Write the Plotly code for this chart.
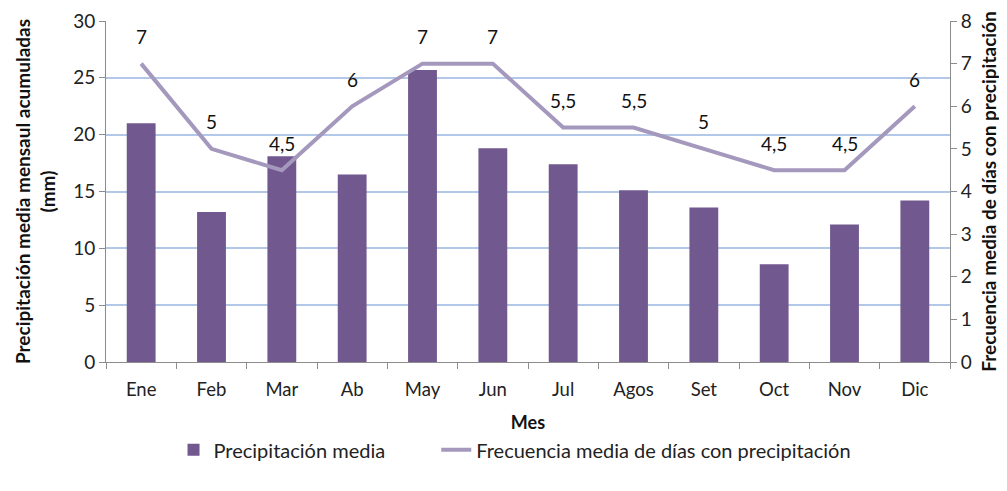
import plotly.graph_objects as go

# datos
meses = ["Ene", "Feb", "Mar", "Ab", "May", "Jun", "Jul", "Agos", "Set", "Oct", "Nov", "Dic"]
precipitacion = [21.0, 13.2, 18.1, 16.5, 25.7, 18.8, 17.4, 15.1, 13.6, 8.6, 12.1, 14.2]
frecuencia = [7, 5, 4.5, 6, 7, 7, 5.5, 5.5, 5, 4.5, 4.5, 6]

FONT = "Lato"
bar_color = "#71588F"
line_color = "#A498BD"
txt_color = "#222222"

fig = go.Figure()

fig.add_trace(go.Bar(
    x=meses, y=precipitacion,
    name="Precipitación media" + "\u00a0" * 9,
    marker=dict(color=bar_color, line=dict(width=0)),
    yaxis="y",
))

fig.add_trace(go.Scatter(
    x=meses, y=frecuencia,
    name="Frecuencia media de días con precipitación",
    mode="lines",
    line=dict(color=line_color, width=4),
    yaxis="y2",
))

# etiquetas de datos con coma decimal
annotations = []
for m, v in zip(meses, frecuencia):
    txt = f"{v:g}".replace(".", ",")
    annotations.append(dict(
        x=m, y=v, xref="x", yref="y2", text=txt, showarrow=False,
        yshift=27, font=dict(family=FONT, size=19, color="#111111"),
    ))

fig.update_layout(
    width=1007, height=491,
    margin=dict(l=98, r=65, t=13, b=137),
    paper_bgcolor="white", plot_bgcolor="white",
    font=dict(family=FONT, size=18, color=txt_color),
    bargap=0.59,
    annotations=annotations,
    showlegend=True,
    legend=dict(
        orientation="h", x=0.08, xanchor="left", y=-0.2, yanchor="top",
        font=dict(family=FONT, size=20, color=txt_color),
        traceorder="normal",
    ),
    xaxis=dict(
        automargin=False,
        showline=True, linecolor="#8C8C8C", linewidth=1,
        ticks="outside", ticklen=6, tickcolor="#8C8C8C",
        tickson="boundaries", ticklabelstandoff=11,
        title=dict(text="<b>Mes</b>", font=dict(family=FONT, size=18, color="#111111"), standoff=17),
        tickfont=dict(family=FONT, size=18.5, color=txt_color),
    ),
    yaxis=dict(
        automargin=False,
        range=[0, 30], dtick=5,
        showline=True, linecolor="#8C8C8C", linewidth=1,
        ticks="outside", ticklen=6, tickcolor="#8C8C8C",
        showgrid=True, gridcolor="#B3C8E8", gridwidth=1.5,
        zeroline=False,
        tickfont=dict(family=FONT, size=19, color=txt_color),
        title=dict(text="<b>Precipitación media mensaul acumuladas<br>(mm)</b>",
                   font=dict(family=FONT, size=19, color="#111111"), standoff=12),
    ),
    yaxis2=dict(
        automargin=False,
        range=[0, 8], dtick=1, overlaying="y", side="right",
        showline=True, linecolor="#8C8C8C", linewidth=1,
        ticks="outside", ticklen=6, tickcolor="#8C8C8C",
        showgrid=False, zeroline=False,
        tickfont=dict(family=FONT, size=19, color=txt_color),
        title=dict(text="<b>Frecuencia media de días con precipitación</b>",
                   font=dict(family=FONT, size=19, color="#111111"), standoff=11),
    ),
)

fig.write_html("out.html")
